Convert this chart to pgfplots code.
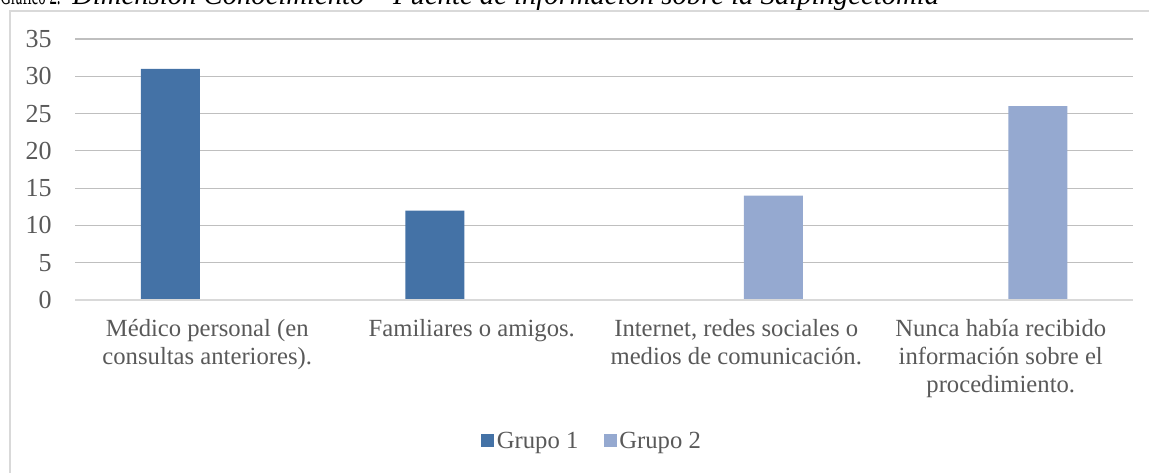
\documentclass[border=0pt]{standalone}
\usepackage{pgfplots}
\pgfplotsset{compat=1.18}
\usepackage{fontspec}
\setmainfont{Liberation Serif}
\definecolor{gone}{RGB}{68,114,166}
\definecolor{gtwo}{RGB}{149,169,208}
\definecolor{txt}{RGB}{89,89,89}
\definecolor{grid}{RGB}{217,217,217}
\begin{document}
\begin{tikzpicture}
\useasboundingbox (0,0) rectangle (861.75pt,354.75pt);
\clip (0,0) rectangle (861.75pt,354.75pt);
\node[anchor=base west, inner sep=0pt, font=\fontsize{21.5}{24}\selectfont] at (0pt,351pt) {\scalebox{0.52}[1]{Gráfico 2.}};
\node[anchor=base west, inner sep=0pt, font=\fontsize{21.5}{24}\selectfont] at (54pt,351pt) {\itshape Dimensión Conocimiento – Fuente de información sobre la Salpingectomía};
\draw[grid, line width=0.9pt] (7.5pt,-10pt) -- (7.5pt,346.5pt) -- (880pt,346.5pt);
\begin{axis}[
  at={(56.25pt,129.75pt)}, anchor=south west,
  scale only axis, width=793.5pt, height=195.75pt,
  xmin=-0.5, xmax=3.5, ymin=0, ymax=35,
  ytick={0,5,...,35},
  xtick={0,1,2,3},
  xticklabels={{Médico personal (en\\consultas anteriores).},{Familiares o amigos.},{Internet, redes sociales o\\medios de comunicación.},{Nunca había recibido\\información sobre el\\procedimiento.}},
  xticklabel style={align=center, font=\fontsize{18.5}{21}\selectfont, text=txt, anchor=north, yshift=-11pt},
  yticklabel style={font=\fontsize{19.5}{21}\selectfont, text=txt, xshift=-14pt},
  /pgf/number format/assume math mode=true,
  ymajorgrids, xmajorgrids=false, major grid style={grid, line width=0.9pt},
  axis line style={draw=none},
  tick style={draw=none},
  major tick length=0pt,
  ybar=11.25pt, bar width=44.25pt,
  legend style={at={(0.489,-0.54)}, anchor=center, draw=none, fill=none, legend columns=2, font=\fontsize{18.5}{21}\selectfont, text=txt, /tikz/every even column/.append style={column sep=17pt}},
  legend image code/.code={\fill[#1] (0pt,-4.9pt) rectangle (9.75pt,4.9pt);},
  clip=false,
]
\addplot[fill=gone, draw=none] coordinates {(0,31) (1,12) (2,0) (3,0)};
\addplot[fill=gtwo, draw=none] coordinates {(0,0) (1,0) (2,14) (3,26)};
\legend{Grupo 1, Grupo 2}
\draw[grid, line width=0.9pt] (axis cs:-0.5,0) -- (axis cs:3.5,0);
\end{axis}
\end{tikzpicture}
\end{document}
